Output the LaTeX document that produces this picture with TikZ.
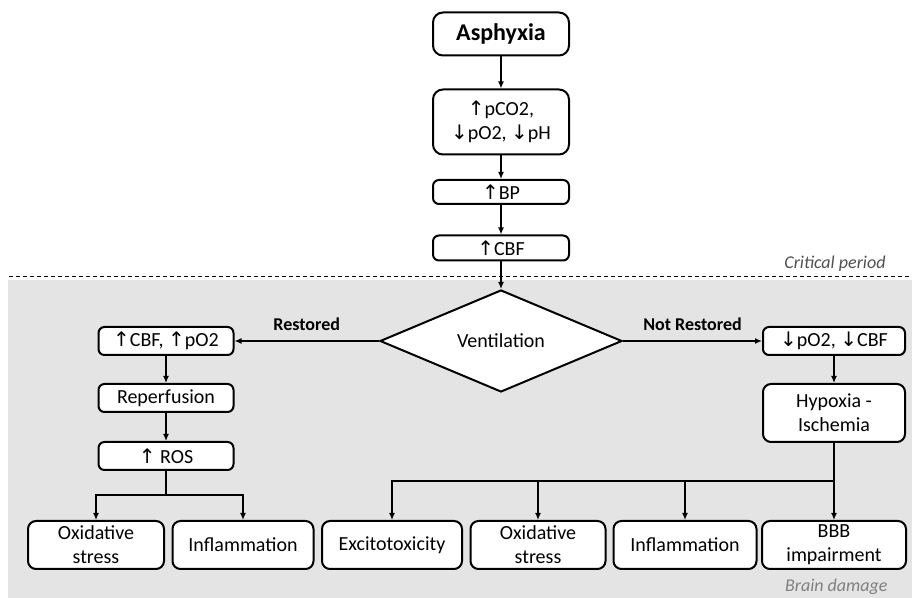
\documentclass[tikz,border=0pt]{standalone}
\usepackage{fontspec}
\setmainfont{Carlito}
\newfontfamily\arrfont{DejaVu Sans}
\usetikzlibrary{shapes.geometric,arrows.meta}
\definecolor{bgshade}{HTML}{E4E4E4}
\definecolor{note}{HTML}{505050}
\newcommand{\upar}{{\arrfont ↑}}
\newcommand{\dnar}{{\arrfont ↓}}
\tikzset{fc/.style={x=.5pt,y=-.5pt,line width=.75pt,font=\fontsize{10}{12}\selectfont},
  bx/.style={draw,fill=white,rounded corners=3pt,line width=1pt,inner sep=0pt,align=center,minimum height=14pt},
  ar/.style={-{Latex[length=3.5pt,width=3pt]}},
  lb/.style={font=\bfseries\fontsize{9}{11}\selectfont,above=1.5pt},
  tag/.style={font=\itshape\fontsize{9}{11}\selectfont,anchor=east}}

\begin{document}
\begin{tikzpicture}[fc]
  \useasboundingbox (0,0) rectangle (912,598);
  \fill[bgshade] (8,280) rectangle (912,598);
  \draw[line width=.5pt,dash pattern=on 2pt off 1.5pt] (9,277)--(912,277);
  \node[tag,note] at (893,264) {Critical period};
  \node[tag,gray] at (895,587) {Brain damage};
  % critical period
  \node[bx,minimum width=68pt,minimum height=21.5pt,rounded corners=5pt,font=\bfseries\fontsize{12}{14}\selectfont] (asph) at (501,34) {Asphyxia};
  \node[bx,minimum width=68pt,minimum height=32.5pt,rounded corners=5pt] (gas) at (501,122) {\upar pCO2,\\\dnar pO2, \dnar pH};
  \node[bx,minimum width=68pt,minimum height=12pt] (bp) at (501,192) {\upar BP};
  \node[bx,minimum width=68pt,minimum height=12.5pt] (cbf) at (501,248) {\upar CBF};
  \node[draw,fill=white,diamond,line width=1pt,inner sep=0pt,minimum width=121pt,minimum height=51pt] (vent) at (501,341) {Ventilation};
  % branches
  \node[bx,minimum width=67.5pt] (up) at (166,341) {\upar CBF, \upar pO2};
  \node[bx,minimum width=67.5pt] (rep) at (166,398) {Reperfusion};
  \node[bx,minimum width=67.5pt] (ros) at (166,456) {\upar\ ROS};
  \node[bx,minimum width=71pt] (dn) at (834,341) {\dnar pO2, \dnar CBF};
  \node[bx,minimum width=71pt,minimum height=29pt,rounded corners=4pt] (hyp) at (834,413) {Hypoxia -\\Ischemia};
  \foreach \n/\x/\w/\t in {ox1/96/68/{Oxidative\\stress},inf1/243/70.5/Inflammation,exc/392/70/Excitotoxicity,ox2/538/67.5/{Oxidative\\stress},inf2/685/71.5/Inflammation,bbb/834/72/{BBB\\impairment}}
    \node[bx,minimum width=\w pt,minimum height=24pt,rounded corners=4pt] (\n) at (\x,545) {\t};
  \coordinate (lj) at (166,495);
  \coordinate (rj) at (834,481);
  % connectors
  \draw[ar] (asph)--(gas); \draw[ar] (gas)--(bp); \draw[ar] (bp)--(cbf); \draw[ar] (cbf)--(vent);
  \draw[ar] (vent)--node[lb]{Restored}(up);
  \draw[ar] (vent)--node[lb]{Not Restored}(dn);
  \draw[ar] (up)--(rep); \draw[ar] (rep)--(ros); \draw[ar] (dn)--(hyp);
  \draw (ros)--(lj); \draw[ar] (lj)-|(ox1); \draw[ar] (lj)-|(inf1);
  \draw (hyp)--(rj);
  \foreach \n in {exc,ox2,inf2,bbb} \draw[ar] (rj)-|(\n);
\end{tikzpicture}
\end{document}
